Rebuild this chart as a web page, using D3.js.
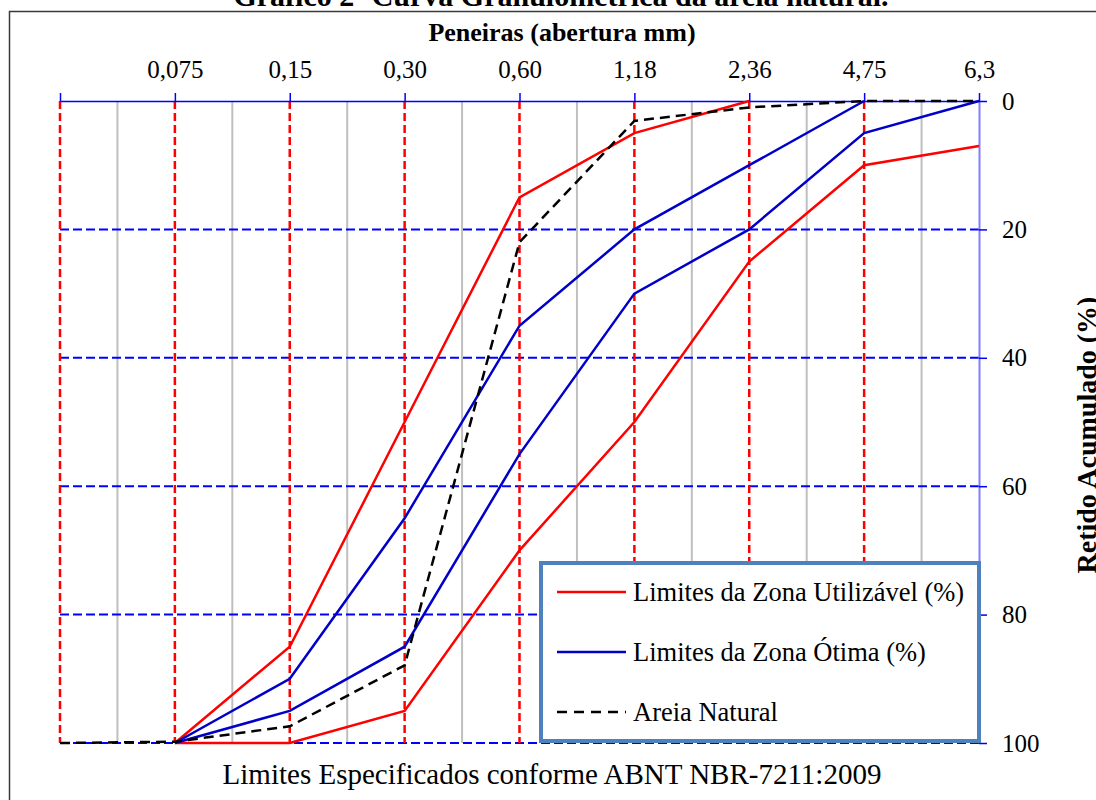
<!DOCTYPE html>
<html lang="pt">
	<head>
		<meta charset="utf-8">
		<title>Curva Granulométrica</title>
		<script type="text/javascript" src="https://cdn.jsdelivr.net/npm/d3@7"></script>
		<style type="text/css">
			body {
				margin: 0;
				background: #fff;
			}
			svg text {
				font-family: "Liberation Serif", "Times New Roman", serif;
				fill: #000;
			}
		</style>
	</head>

	<body>
		<script type="text/javascript">

		// peneiras (abertura mm) - first position is the bottom of the chart, no label
		var sieves = ["", "0,075", "0,15", "0,30", "0,60", "1,18", "2,36", "4,75", "6,3"];

		// retido acumulado (%) per sieve, null = no point
		var utilSup  = [null, 100, 85, 50, 15, 5, 0, null, null];
		var utilInf  = [null, 100, 100, 95, 70, 50, 25, 10, 7];
		var otimaSup = [null, 100, 90, 65, 35, 20, 10, 0, null];
		var otimaInf = [null, 100, 95, 85, 55, 30, 20, 5, 0];
		var areia    = [100, 99.8, 97.4, 87.9, 22, 3.1, 1, 0, 0];

		var yTicks = [0, 20, 40, 60, 80, 100];

		var legendNames = ["Limites da Zona Utilizável (%)", "Limites da Zona Ótima (%)", "Areia Natural"];

		var w = 1096;
		var h = 800;

		//plot area (note: "top" is reserved on window, so use pl/pr/pt/pb)
		var pl = 60, pr = 979, pt = 101, pb = 743;

		var svg = d3.select("body")
					.append("svg")
					.attr("width", w)
					.attr("height", h);

		svg.append("rect")
			.attr("width", w)
			.attr("height", h)
			.attr("fill", "#fff");

		var xScale = d3.scalePoint()
						.domain(sieves)
						.range([pl, pr]);

		var yScale = d3.scaleLinear()
						.domain([0, 100])
						.range([pt, pb]);

		var step = xScale.step();

		//chart frame (cut at the right and bottom)
		svg.append("path")
			.attr("d", "M9.5," + (h + 5) + "V11.5H" + (w + 5))
			.attr("fill", "none")
			.attr("stroke", "#3a3a3a")
			.attr("stroke-width", 1.5);

		//grey minor gridlines between sieves
		svg.selectAll(".minor")
			.data(sieves.slice(0, -1))
			.enter()
			.append("line")
			.attr("class", "minor")
			.attr("x1", function(d) { return xScale(d) + step / 2; })
			.attr("x2", function(d) { return xScale(d) + step / 2; })
			.attr("y1", pt)
			.attr("y2", pb)
			.attr("stroke", "#bfbfbf")
			.attr("stroke-width", 2);

		//blue dashed horizontal gridlines
		svg.selectAll(".hgrid")
			.data(yTicks.slice(1))
			.enter()
			.append("line")
			.attr("class", "hgrid")
			.attr("x1", pl)
			.attr("x2", pr)
			.attr("y1", function(d) { return yScale(d); })
			.attr("y2", function(d) { return yScale(d); })
			.attr("stroke", "#0000ff")
			.attr("stroke-width", 2)
			.attr("stroke-dasharray", "9,4");

		//red dashed vertical gridlines
		svg.selectAll(".vgrid")
			.data(sieves.slice(0, -1))
			.enter()
			.append("line")
			.attr("class", "vgrid")
			.attr("x1", function(d) { return xScale(d); })
			.attr("x2", function(d) { return xScale(d); })
			.attr("y1", pt)
			.attr("y2", pb)
			.attr("stroke", "#ff0000")
			.attr("stroke-width", 2.5)
			.attr("stroke-dasharray", "8,4");

		//top axis (sieves)
		var xAxis = d3.axisTop(xScale)
						.tickSize(8)
						.tickSizeOuter(0)
						.tickPadding(15);

		var gx = svg.append("g")
			.attr("transform", "translate(0," + pt + ")")
			.call(xAxis);
		gx.select(".domain").attr("stroke", "#0000ff").attr("stroke-width", 1.5);
		gx.selectAll(".tick line").attr("stroke", "#0000ff").attr("stroke-width", 1.5);
		gx.selectAll(".tick text")
			.attr("font-size", "25px")
			.attr("font-family", "Liberation Serif, serif")
			.attr("fill", "#000");

		//right axis (retido acumulado)
		var yAxis = d3.axisRight(yScale)
						.tickValues(yTicks)
						.tickSize(8)
						.tickSizeOuter(0)
						.tickPadding(15);

		var gy = svg.append("g")
			.attr("transform", "translate(" + pr + ",0)")
			.call(yAxis);
		gy.select(".domain").attr("stroke", "#8080ff").attr("stroke-width", 2);
		gy.selectAll(".tick line").attr("stroke", "#0000ff").attr("stroke-width", 1.5);
		gy.selectAll(".tick text")
			.attr("font-size", "25px")
			.attr("font-family", "Liberation Serif, serif")
			.attr("fill", "#000");

		//series
		var series = [
			{ values: utilSup, color: "#ff0000", dash: null },
			{ values: utilInf, color: "#ff0000", dash: null },
			{ values: otimaSup, color: "#0000c8", dash: null },
			{ values: otimaInf, color: "#0000c8", dash: null },
			{ values: areia, color: "#000000", dash: "10,6" }
		];

		var line = d3.line()
			.defined(function(d) { return d != null; })
			.x(function(d, i) { return xScale(sieves[i]); })
			.y(function(d) { return yScale(d); });

		svg.selectAll(".serie")
			.data(series)
			.enter()
			.append("path")
			.attr("class", "serie")
			.attr("d", function(d) { return line(d.values); })
			.attr("fill", "none")
			.attr("stroke", function(d) { return d.color; })
			.attr("stroke-width", 2.5)
			.attr("stroke-dasharray", function(d) { return d.dash; });

		//legend
		var lg = svg.append("g");
		lg.append("rect")
			.attr("x", 541)
			.attr("y", 563)
			.attr("width", 438)
			.attr("height", 178)
			.attr("fill", "#fff")
			.attr("stroke", "#4f81bd")
			.attr("stroke-width", 4);

		var legendColors = ["#ff0000", "#0000c8", "#000000"];
		var legendDash = [null, null, "10,7"];

		legendNames.forEach(function(name, i) {
			var ly = 592 + i * 60;
			lg.append("line")
				.attr("x1", 557).attr("x2", 626)
				.attr("y1", ly).attr("y2", ly)
				.attr("stroke", legendColors[i])
				.attr("stroke-width", 2.5)
				.attr("stroke-dasharray", legendDash[i]);
			lg.append("text")
				.attr("x", 633)
				.attr("y", ly + 9)
				.attr("font-size", "26.5px")
				.text(name);
		});

		//titles
		svg.append("text")
			.attr("x", 561)
			.attr("y", 6)
			.attr("text-anchor", "middle")
			.attr("font-size", "30px")
			.attr("font-weight", "bold")
			.text("Gráfico 2- Curva Granulométrica da areia natural.");

		svg.append("text")
			.attr("x", 562)
			.attr("y", 41)
			.attr("text-anchor", "middle")
			.attr("font-size", "26px")
			.attr("font-weight", "bold")
			.text("Peneiras (abertura mm)");

		svg.append("text")
			.attr("transform", "translate(1096,435) rotate(-90)")
			.attr("text-anchor", "middle")
			.attr("font-size", "28px")
			.attr("font-weight", "bold")
			.text("Retido Acumulado (%)");

		svg.append("text")
			.attr("x", 552)
			.attr("y", 784)
			.attr("text-anchor", "middle")
			.attr("font-size", "29px")
			.text("Limites Especificados conforme ABNT NBR-7211:2009");

		</script>
	</body>
</html>
